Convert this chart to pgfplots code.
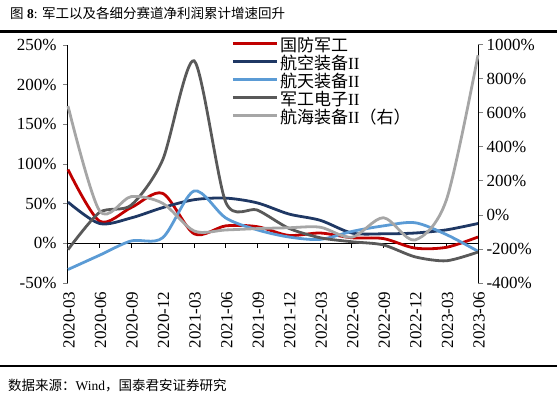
\documentclass[border=0pt]{standalone}
\usepackage{fontspec}
\setmainfont{Liberation Serif}
\newfontfamily\cjk{Noto Sans CJK SC}
\usepackage{pgfplots}
\pgfplotsset{compat=1.18}
\definecolor{cRed}{HTML}{C00000}
\definecolor{cNavy}{HTML}{1F3864}
\definecolor{cBlue}{HTML}{5B9BD5}
\definecolor{cDGray}{HTML}{595959}
\definecolor{cLGray}{HTML}{A6A6A6}
\begin{document}
\begin{tikzpicture}[x=1pt,y=1pt]
\useasboundingbox (0,0) rectangle (557,397);
\node[anchor=west, font=\fontsize{13.5}{14}\selectfont, inner sep=0pt] at (10,384) {{\cjk 图} \textbf{8}: {\cjk 军工以及各细分赛道净利润累计增速回升}};
\draw[line width=3pt] (0,365) -- (557,365);
\draw[line width=2pt] (0,31) -- (557,31);
\node[anchor=west, font=\fontsize{13.5}{14}\selectfont, inner sep=0pt] at (8,11) {{\cjk 数据来源：}Wind{\cjk ，国泰君安证券研究}};

\begin{axis}[at={(68pt,114pt)}, anchor=south west, width=410pt, height=238pt, scale only axis,
 xmin=0, xmax=13, ymin=-50, ymax=250,
 axis y line*=left, axis x line*=bottom,
 x axis line style={draw=none},
 xtick={0,...,13},
 xticklabels={2020-03,2020-06,2020-09,2020-12,2021-03,2021-06,2021-09,2021-12,2022-03,2022-06,2022-09,2022-12,2023-03,2023-06},
 xticklabel style={rotate=90, anchor=east, yshift=-1pt},
 major x tick style={draw=none},
 ytick={-50,0,50,100,150,200,250},
 yticklabels={-50\%,0\%,50\%,100\%,150\%,200\%,250\%},
 yticklabel style={xshift=-3pt},
 tick align=outside, major tick length=5pt,
 y axis line style={line width=1pt}, ytick style={line width=1pt},
 tick label style={font=\fontsize{17}{17}\selectfont},
 every axis plot/.append style={line width=2.8pt, smooth, no marks},
 clip=false,
]
\draw[line width=1pt] (axis cs:0,0) -- (axis cs:13,0);
\draw[line width=1pt] (axis cs:1,0) -- ++(0pt,-5pt) (axis cs:2,0) -- ++(0pt,-5pt) (axis cs:3,0) -- ++(0pt,-5pt) (axis cs:4,0) -- ++(0pt,-5pt) (axis cs:5,0) -- ++(0pt,-5pt) (axis cs:6,0) -- ++(0pt,-5pt) (axis cs:7,0) -- ++(0pt,-5pt) (axis cs:8,0) -- ++(0pt,-5pt) (axis cs:9,0) -- ++(0pt,-5pt) (axis cs:10,0) -- ++(0pt,-5pt) (axis cs:11,0) -- ++(0pt,-5pt) (axis cs:12,0) -- ++(0pt,-5pt);
\addplot[cRed] coordinates {(0,93) (1,28) (2,45) (3,63) (4,12) (5,22) (6,21) (7,10) (8,13) (9,7) (10,6) (11,-6) (12,-5) (13,8)};
\addplot[cNavy] coordinates {(0,52) (1,25) (2,32) (3,45) (4,55) (5,57) (6,51) (7,37) (8,29) (9,13) (10,12) (11,13) (12,17) (13,25)};
\addplot[cBlue] coordinates {(0,-33) (1,-15) (2,3) (3,7) (4,66) (5,32) (6,17) (7,8) (8,5) (9,15) (10,22) (11,26) (12,11) (13,-10)};
\addplot[cDGray, tension=0.45] coordinates {(0,-8) (1,39) (2,48) (3,105) (4,230) (5,52) (6,42) (7,19) (8,7) (9,2) (10,-2) (11,-17) (12,-22) (13,-11)};
\end{axis}

\begin{axis}[at={(68pt,114pt)}, anchor=south west, width=410pt, height=238pt, scale only axis,
 xmin=0, xmax=13, ymin=-400, ymax=1000,
 axis y line*=right, axis x line=none,
 ytick={-400,-200,0,200,400,600,800,1000},
 yticklabels={-400\%,-200\%,0\%,200\%,400\%,600\%,800\%,1000\%},
 tick align=outside, major tick length=5pt,
 y axis line style={line width=1pt}, ytick style={line width=1pt},
 tick label style={font=\fontsize{17}{17}\selectfont},
 every axis plot/.append style={line width=2.8pt, smooth, no marks},
 clip=false,
 legend image code/.code={\draw[#1] (0pt,4pt) -- (44pt,4pt);},
 legend cell align=left,
 legend style={at={(0.398,1.025)}, anchor=north west, draw=none, fill=none, inner sep=0pt,
   font=\fontsize{17}{17}\selectfont, row sep=2pt,
   nodes={inner ysep=0pt, text height=12pt, text depth=4pt}},
]
\addlegendimage{cRed, line width=2.8pt}\addlegendentry{{\cjk 国防军工}}
\addlegendimage{cNavy, line width=2.8pt}\addlegendentry{{\cjk 航空装备}II}
\addlegendimage{cBlue, line width=2.8pt}\addlegendentry{{\cjk 航天装备}II}
\addlegendimage{cDGray, line width=2.8pt}\addlegendentry{{\cjk 军工电子}II}
\addplot[cLGray] coordinates {(0,641) (1,25) (2,108) (3,69) (4,-94) (5,-88) (6,-80) (7,-75) (8,-72) (9,-131) (10,-16) (11,-147) (12,90) (13,940)};
\addlegendentry{{\cjk 航海装备}II{\cjk （右）}}
\end{axis}
\end{tikzpicture}
\end{document}
